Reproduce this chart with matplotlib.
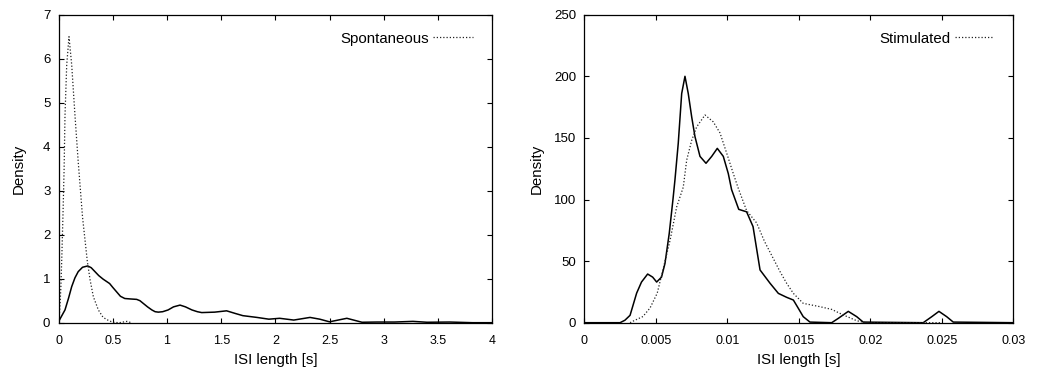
import matplotlib
matplotlib.use("Agg")
import matplotlib.pyplot as plt

plt.rcParams['font.family'] = ['Liberation Sans', 'DejaVu Sans']

# spontaneous ISI densities (left panel)
spont_x = [0.0, 0.02, 0.058, 0.09, 0.12, 0.15, 0.18, 0.22, 0.268, 0.3, 0.335, 0.37, 0.41,
           0.47, 0.5, 0.535, 0.57, 0.61, 0.66, 0.72, 0.75, 0.78, 0.82, 0.86, 0.89, 0.92,
           0.96, 1.01, 1.06, 1.12, 1.17, 1.23, 1.28, 1.32, 1.44, 1.55, 1.63, 1.70, 1.83,
           1.94, 2.04, 2.17, 2.32, 2.41, 2.50, 2.66, 2.80, 2.94, 3.1, 3.27, 3.4, 3.61,
           3.82, 4.0]
spont_solid = [0.03, 0.12, 0.29, 0.55, 0.82, 1.02, 1.16, 1.26, 1.29, 1.25, 1.16, 1.07, 0.99,
               0.89, 0.80, 0.70, 0.60, 0.55, 0.54, 0.53, 0.50, 0.44, 0.36, 0.29, 0.25, 0.24,
               0.25, 0.29, 0.36, 0.40, 0.36, 0.29, 0.25, 0.23, 0.24, 0.27, 0.21, 0.16, 0.12,
               0.08, 0.10, 0.06, 0.12, 0.08, 0.02, 0.10, 0.01, 0.015, 0.015, 0.03, 0.01,
               0.015, 0.0, 0.0]

spont_dot_x = [0.0, 0.01, 0.02, 0.03, 0.04, 0.05, 0.058, 0.074, 0.095, 0.12, 0.15, 0.18,
               0.22, 0.264, 0.29, 0.32, 0.366, 0.41, 0.46, 0.5, 0.56, 0.63, 0.67]
spont_dot_y = [0.0, 0.3, 0.8, 1.6, 2.5, 3.5, 4.7, 5.86, 6.5, 5.86, 4.72, 3.66, 2.4, 1.4,
               0.97, 0.59, 0.29, 0.12, 0.05, 0.01, 0.0, 0.03, 0.0]

# stimulated ISI densities (right panel)
stim_x = [0.0, 0.0025, 0.00284, 0.0032, 0.00366, 0.004, 0.00443, 0.00478, 0.00506, 0.0054,
          0.00564, 0.00594, 0.0062, 0.00634, 0.00657, 0.00681, 0.00704, 0.00727, 0.00751,
          0.00774, 0.00809, 0.00851, 0.00891, 0.0093, 0.00972, 0.01007, 0.0103, 0.0108,
          0.01135, 0.0118, 0.01229, 0.01299, 0.01357, 0.01415, 0.01462, 0.01497, 0.01531,
          0.01578, 0.0173, 0.01776, 0.01846, 0.01905, 0.0195, 0.0237, 0.0243, 0.0248,
          0.02534, 0.0258, 0.03]
stim_solid = [0.0, 0.0, 2, 6, 24, 33, 39.5, 37, 33, 37, 48, 72.5, 100, 116, 145.6, 186, 200,
              186, 167, 151, 135, 129.4, 135, 141.5, 135, 121, 108, 92, 90, 78, 42.8, 32,
              23.8, 20.6, 18.4, 11.6, 4.9, 0.5, 0.0, 3.5, 9.2, 4.9, 0.5, 0.0, 4.9, 9.2, 4.9,
              0.5, 0.0]

stim_dot_x = [0.0032, 0.00354, 0.0041, 0.0046, 0.0051, 0.0055, 0.006, 0.00646, 0.00692,
              0.00716, 0.00751, 0.00786, 0.00844, 0.00902, 0.00949, 0.00996, 0.01042,
              0.01077, 0.01135, 0.01205, 0.0126, 0.01369, 0.01415, 0.01462, 0.01531,
              0.01648, 0.0173, 0.01811, 0.01905, 0.0197, 0.025]
stim_dot_y = [0.0, 2, 5, 12, 24, 43, 67, 94, 110, 132, 148, 159, 168.6, 163, 154, 137.5,
              121, 109, 91, 81, 66, 41.4, 32, 23.8, 15.7, 13, 10.8, 6.3, 1.6, 0.0, 0.0]

dot_style = (0, (1, 1.6))
label_fs = 10.8

fig = plt.figure(figsize=(10.39, 3.69), dpi=100)
ax1 = fig.add_axes([58.7 / 1039, 1 - 322.7 / 369, (492 - 58.7) / 1039, (322.7 - 14.7) / 369])
ax2 = fig.add_axes([584.3 / 1039, 1 - 322.7 / 369, (1013.3 - 584.3) / 1039, (322.7 - 14.7) / 369])

ax1.plot(spont_x, spont_solid, color="black", linewidth=1.1)
ax1.plot(spont_dot_x, spont_dot_y, color="#222222", linewidth=0.9, linestyle=dot_style,
         label="Spontaneous")
ax1.set_xlim(0, 4)
ax1.set_ylim(0, 7)
ax1.set_xticks([0, 0.5, 1, 1.5, 2, 2.5, 3, 3.5, 4])
ax1.set_xticklabels(["0", "0.5", "1", "1.5", "2", "2.5", "3", "3.5", "4"])
ax1.set_yticks(range(0, 8))

ax2.plot(stim_x, stim_solid, color="black", linewidth=1.1)
ax2.plot(stim_dot_x, stim_dot_y, color="#222222", linewidth=0.9, linestyle=dot_style,
         label="Stimulated")
ax2.set_xlim(0, 0.03)
ax2.set_ylim(0, 250)
ax2.set_xticks([0, 0.005, 0.01, 0.015, 0.02, 0.025, 0.03])
ax2.set_xticklabels(["0", "0.005", "0.01", "0.015", "0.02", "0.025", "0.03"])
ax2.set_yticks([0, 50, 100, 150, 200, 250])

for ax, ypad in ((ax1, 12), (ax2, 7)):
    ax.tick_params(direction="in", top=True, right=True, length=3.5, width=0.8)
    ax.tick_params(axis="x", pad=8.5, labelsize=9)
    ax.tick_params(axis="y", pad=6, labelsize=9.5)
    for s in ax.spines.values():
        s.set_linewidth(0.9)
    ax.set_xlabel("ISI length [s]", fontsize=label_fs, labelpad=5)
    ax.set_ylabel("Density", fontsize=label_fs, labelpad=ypad)
    ax.legend(loc="center right", bbox_to_anchor=(0.956, 0.922), frameon=False,
              markerfirst=False, handlelength=2.65, handletextpad=0.25, fontsize=label_fs,
              borderpad=0, borderaxespad=0)

plt.savefig("out.png", dpi=100)
